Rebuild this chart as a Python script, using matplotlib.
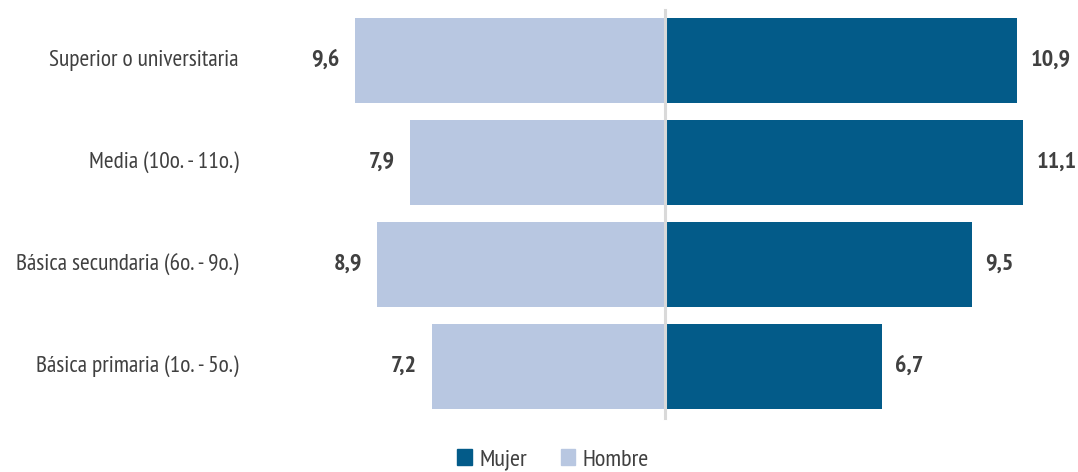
import matplotlib
matplotlib.use('Agg')
import matplotlib.pyplot as plt
import matplotlib.patches as mpatches

plt.rcParams['font.family'] = ['PT Sans Narrow', 'DejaVu Sans']
plt.rcParams['font.stretch'] = 'condensed'

categorias = ['Superior o universitaria', 'Media (10o. - 11o.)',
              'Básica secundaria (6o. - 9o.)', 'Básica primaria (1o. - 5o.)']
mujer = [10.9, 11.1, 9.5, 6.7]
hombre = [9.6, 7.9, 8.9, 7.2]

C_MUJER = '#035B89'
C_HOMBRE = '#B8C7E1'
C_TXT = '#404040'

fig = plt.figure(figsize=(10.78, 4.72), dpi=100)
ax = fig.add_axes([0, 0, 1, 1])

pos = list(range(len(categorias)))
ax.barh(pos, mujer, left=0.03, height=0.83, color=C_MUJER)
ax.barh(pos, [-h for h in hombre], left=-0.03, height=0.83, color=C_HOMBRE)

ax.axvline(0, ymin=0.114, ymax=0.979, color='#d9d9d9', linewidth=2.2, zorder=3)

for i, (m, h) in enumerate(zip(mujer, hombre)):
    ax.text(m + 0.45, i, f'{m:.1f}'.replace('.', ','), ha='left', va='center',
            fontsize=17.5, fontweight='bold', color=C_TXT)
    ax.text(-h - 0.5, i, f'{h:.1f}'.replace('.', ','), ha='right', va='center',
            fontsize=17.5, fontweight='bold', color=C_TXT)
    ax.text(-13.25, i, categorias[i], ha='right', va='center',
            fontsize=16.8, color=C_TXT)

ax.set_xlim(-665 / 32.2, (1078 - 665) / 32.2)
ax.set_ylim((472 - 60.5) / 102, -60.5 / 102)
ax.axis('off')

handles = [mpatches.Patch(color=C_MUJER, label='Mujer'),
           mpatches.Patch(color=C_HOMBRE, label='Hombre')]
fig.legend(handles=handles, loc='center', bbox_to_anchor=(553 / 1078, 1 - 460 / 472),
           ncol=2, frameon=False, fontsize=17.5, handlelength=0.6, handleheight=0.6,
           handletextpad=0.3, columnspacing=1.4, labelcolor=C_TXT)

fig.savefig('out.png', dpi=100)
